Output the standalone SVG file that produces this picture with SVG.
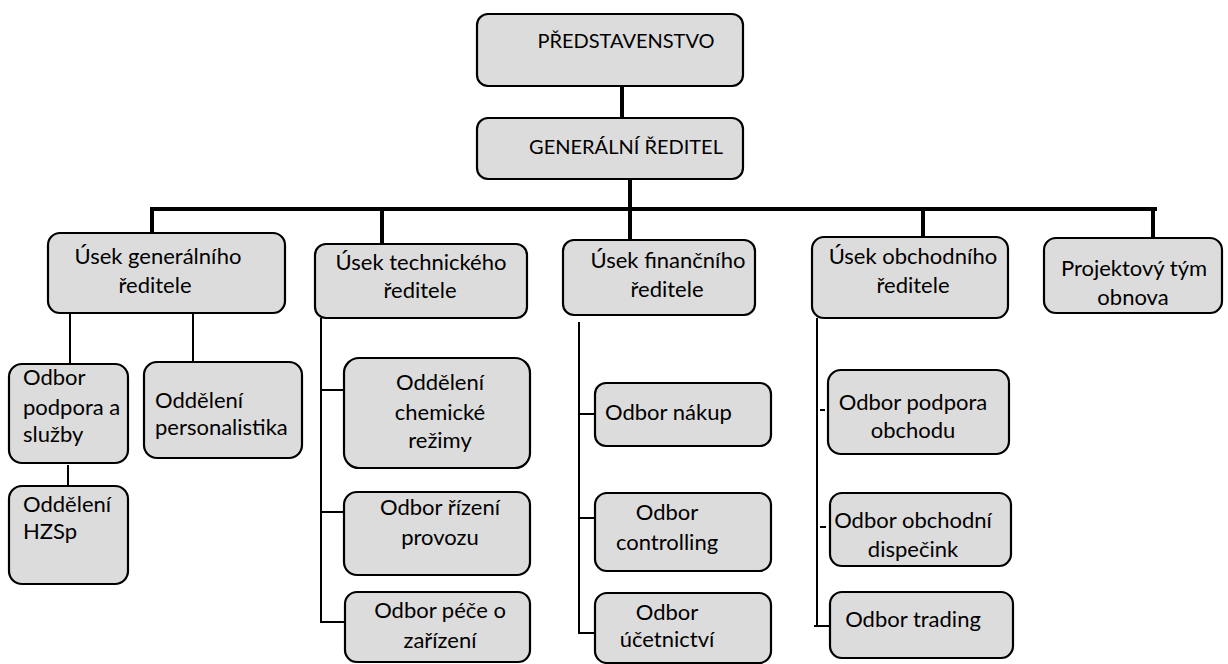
<svg xmlns="http://www.w3.org/2000/svg" width="1228" height="664" viewBox="0 0 1228 664">
<style>
.box{fill:#dcdcdc;stroke:#000;stroke-width:2.2}
.t{font-family:Lato,"Liberation Sans",sans-serif;font-size:22px;fill:#000}
.c{font-size:20px}
.m{text-anchor:middle}
.thick{stroke:#000;stroke-width:4;fill:none}
.thin{stroke:#000;stroke-width:2;fill:none}
</style>
<rect width="1228" height="664" fill="#fff"/>
<g id="connectors">
<line class="thick" x1="622" y1="86" x2="622" y2="118"/>
<line class="thick" x1="630" y1="179" x2="630" y2="240"/>
<line class="thick" x1="150" y1="209" x2="1157" y2="209"/>
<line class="thick" x1="152" y1="207" x2="152" y2="233"/>
<line class="thick" x1="382" y1="207" x2="382" y2="244"/>
<line class="thick" x1="923" y1="207" x2="923" y2="237"/>
<line class="thick" x1="1153" y1="207" x2="1153" y2="238"/>
<line class="thin" x1="70" y1="313" x2="70" y2="364"/>
<line class="thin" x1="193" y1="313" x2="193" y2="362"/>
<line class="thin" x1="68" y1="465" x2="68" y2="486"/>
<polyline class="thin" points="321,318 321,622 345,622"/>
<line class="thin" x1="321" y1="390" x2="343" y2="390"/>
<line class="thin" x1="321" y1="512" x2="343" y2="512"/>
<polyline class="thin" points="579,322 579,633 595,633"/>
<line class="thin" x1="579" y1="414" x2="595" y2="414"/>
<line class="thin" x1="579" y1="518" x2="595" y2="518"/>
<line class="thin" x1="817" y1="318" x2="817" y2="627"/>
<line class="thin" x1="814" y1="626" x2="829" y2="626"/>
<line class="thin" x1="820" y1="410" x2="825" y2="410"/>
<line class="thin" x1="820" y1="527" x2="826" y2="527"/>
</g>
<g id="predstavenstvo">
<rect class="box" x="477" y="14" width="266" height="72" rx="11"/>
<text class="t c m" x="626" y="48">PŘEDSTAVENSTVO</text>
</g>
<g id="generalni-reditel">
<rect class="box" x="477" y="118" width="266" height="61" rx="11"/>
<text class="t c m" x="626" y="154">GENERÁLNÍ ŘEDITEL</text>
</g>
<g id="usek-generalniho">
<rect class="box" x="48" y="233" width="237" height="80" rx="12"/>
<text class="t m" x="158" y="264">Úsek generálního</text>
<text class="t m" x="155" y="293">ředitele</text>
</g>
<g id="odbor-podpora-sluzby">
<rect class="box" x="9" y="364" width="119" height="99" rx="13"/>
<text class="t" x="23" y="385">Odbor</text>
<text class="t" x="23" y="415">podpora a</text>
<text class="t" x="23" y="442">služby</text>
</g>
<g id="oddeleni-personalistika">
<rect class="box" x="144" y="362" width="158" height="96" rx="13"/>
<text class="t" x="155" y="408">Oddělení</text>
<text class="t" x="155" y="435">personalistika</text>
</g>
<g id="oddeleni-hzsp">
<rect class="box" x="9" y="486" width="119" height="98" rx="13"/>
<text class="t" x="23" y="512">Oddělení</text>
<text class="t" x="23" y="539">HZSp</text>
</g>
<g id="usek-technickeho">
<rect class="box" x="315" y="244" width="212" height="74" rx="11"/>
<text class="t m" x="421" y="270">Úsek technického</text>
<text class="t m" x="420" y="298">ředitele</text>
</g>
<g id="oddeleni-chemicke-rezimy">
<rect class="box" x="344" y="358" width="186" height="110" rx="15"/>
<text class="t m" x="440" y="390">Oddělení</text>
<text class="t m" x="440" y="420">chemické</text>
<text class="t m" x="440" y="448">režimy</text>
</g>
<g id="odbor-rizeni-provozu">
<rect class="box" x="344" y="492" width="186" height="83" rx="13"/>
<text class="t m" x="440" y="515">Odbor řízení</text>
<text class="t m" x="440" y="545">provozu</text>
</g>
<g id="odbor-pece-o-zarizeni">
<rect class="box" x="345" y="592" width="185" height="70" rx="12"/>
<text class="t m" x="440" y="618">Odbor péče o</text>
<text class="t m" x="440" y="648">zařízení</text>
</g>
<g id="usek-financniho">
<rect class="box" x="563" y="240" width="192" height="75" rx="11"/>
<text class="t m" x="668" y="268">Úsek finančního</text>
<text class="t m" x="667" y="297">ředitele</text>
</g>
<g id="odbor-nakup">
<rect class="box" x="595" y="383" width="176" height="63" rx="11"/>
<text class="t" x="605" y="420">Odbor nákup</text>
</g>
<g id="odbor-controlling">
<rect class="box" x="595" y="493" width="176" height="78" rx="12"/>
<text class="t m" x="667" y="520">Odbor</text>
<text class="t m" x="667" y="550">controlling</text>
</g>
<g id="odbor-ucetnictvi">
<rect class="box" x="595" y="593" width="176" height="70" rx="12"/>
<text class="t m" x="667" y="620">Odbor</text>
<text class="t m" x="667" y="647">účetnictví</text>
</g>
<g id="usek-obchodniho">
<rect class="box" x="812" y="237" width="196" height="81" rx="12"/>
<text class="t m" x="913" y="264">Úsek obchodního</text>
<text class="t m" x="913" y="293">ředitele</text>
</g>
<g id="odbor-podpora-obchodu">
<rect class="box" x="828" y="370" width="181" height="84" rx="13"/>
<text class="t m" x="913" y="410">Odbor podpora</text>
<text class="t m" x="913" y="438">obchodu</text>
</g>
<g id="odbor-obchodni-dispecink">
<rect class="box" x="830" y="493" width="181" height="73" rx="12"/>
<text class="t m" x="913" y="528">Odbor obchodní</text>
<text class="t m" x="913" y="557">dispečink</text>
</g>
<g id="odbor-trading">
<rect class="box" x="830" y="592" width="183" height="66" rx="12"/>
<text class="t m" x="913" y="627">Odbor trading</text>
</g>
<g id="projektovy-tym">
<rect class="box" x="1044" y="238" width="178" height="75" rx="12"/>
<text class="t m" x="1134" y="276">Projektový tým</text>
<text class="t m" x="1133" y="305">obnova</text>
</g>
</svg>
